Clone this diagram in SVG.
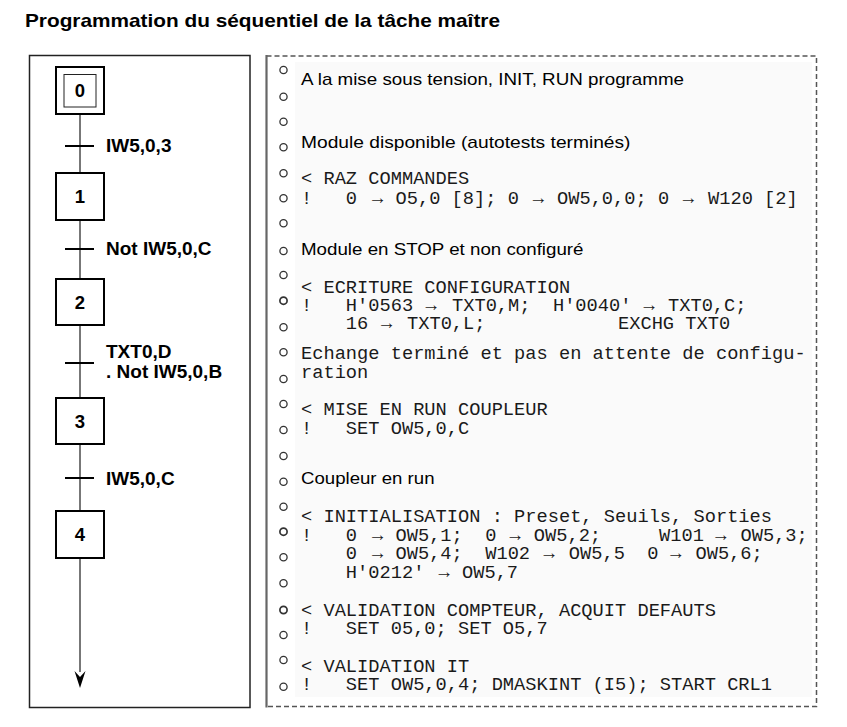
<svg xmlns="http://www.w3.org/2000/svg" width="847" height="727" viewBox="0 0 847 727">
<defs>
<style>
.title{font-family:"Liberation Sans",Arial,sans-serif;font-weight:bold;font-size:17.7px;fill:#000}
.lbl{font-family:"Liberation Sans",Arial,sans-serif;font-weight:bold;font-size:19px;fill:#000}
.num{font-family:"Liberation Sans",Arial,sans-serif;font-weight:bold;font-size:18.5px;fill:#000;text-anchor:middle}
.s{font-family:"Liberation Sans",Arial,sans-serif;font-size:17px;fill:#000}
.m{font-family:"Liberation Mono","DejaVu Sans Mono",monospace;font-size:18.7px;fill:#1a1a1a}
.step{fill:#fff;stroke:#000;stroke-width:2}
.inner{fill:none;stroke:#222;stroke-width:1}
.bar{stroke:#000;stroke-width:2}
.hole{fill:#fff;stroke:#333;stroke-width:1.3}
</style>
<marker id="arr" viewBox="0 0 12 16" refX="6" refY="15" markerWidth="12" markerHeight="16" markerUnits="userSpaceOnUse" orient="auto-start-reverse">
<path d="M0,0 L6,5 L12,0 L6,15 Z" fill="#000" transform="rotate(0)"/>
</marker>
</defs>
<rect width="847" height="727" fill="#fff"/>
<text class="title" x="25" y="26.7" textLength="475" lengthAdjust="spacingAndGlyphs">Programmation du séquentiel de la tâche maître</text>

<!-- left frame -->
<rect x="29.5" y="55.5" width="220.5" height="652" fill="#fff" stroke="#222" stroke-width="1.5"/>

<g id="connectors">
<line x1="80" y1="114" x2="80" y2="672" stroke="#555" stroke-width="1.6"/>
<path d="M74.5,671 L80,677 L85.5,671 L80,688 Z" fill="#000"/>
</g>

<g id="step0">
<rect class="step" x="56" y="67" width="48" height="47"/>
<rect class="inner" x="64" y="74.5" width="32" height="32.5"/>
<text class="num" x="80" y="97">0</text>
</g>
<g id="t1">
<line class="bar" x1="65" y1="146" x2="94" y2="146"/>
<text class="lbl" x="106" y="152">IW5,0,3</text>
</g>
<g id="step1">
<rect class="step" x="56" y="173" width="48" height="47"/>
<text class="num" x="80" y="203.3">1</text>
</g>
<g id="t2">
<line class="bar" x1="65" y1="249" x2="94" y2="249"/>
<text class="lbl" x="106" y="255">Not IW5,0,C</text>
</g>
<g id="step2">
<rect class="step" x="56" y="279" width="48" height="46"/>
<text class="num" x="80" y="308.8">2</text>
</g>
<g id="t3">
<line class="bar" x1="65" y1="363" x2="94" y2="363"/>
<text class="lbl" x="106" y="358.3">TXT0,D</text>
<text class="lbl" x="106" y="377.7">. Not IW5,0,B</text>
</g>
<g id="step3">
<rect class="step" x="56" y="398" width="48" height="46"/>
<text class="num" x="80" y="427.8">3</text>
</g>
<g id="t4">
<line class="bar" x1="65" y1="478" x2="94" y2="478"/>
<text class="lbl" x="106" y="484.5">IW5,0,C</text>
</g>
<g id="step4">
<rect class="step" x="56" y="511" width="48" height="47"/>
<text class="num" x="80" y="541.3">4</text>
</g>

<!-- right panel -->
<g id="notes">
<rect x="295" y="62" width="517" height="635" fill="#fafafa"/>
<path d="M266.5,56 H816.5 V706.5 H266.5" fill="none" stroke="#555" stroke-width="1.5" stroke-dasharray="5 3"/>
<line x1="266.5" y1="55" x2="266.5" y2="707.5" stroke="#666" stroke-width="2.2"/>
<g id="holes">
<circle class="hole" cx="283.5" cy="70" r="3.6"/>
<circle class="hole" cx="283.5" cy="96.7" r="3.6"/>
<circle class="hole" cx="283.5" cy="121.7" r="3.6"/>
<circle class="hole" cx="283.5" cy="147.3" r="3.6"/>
<circle class="hole" cx="283.5" cy="173.3" r="3.6"/>
<circle class="hole" cx="283.5" cy="198.3" r="3.6"/>
<circle class="hole" cx="283.5" cy="223.3" r="3.6"/>
<circle class="hole" cx="283.5" cy="251" r="3.6"/>
<circle class="hole" cx="283.5" cy="275" r="3.6"/>
<circle class="hole" cx="283.5" cy="300.7" r="3.6" style="stroke-width:1.7"/>
<circle class="hole" cx="283.5" cy="327.3" r="3.6"/>
<circle class="hole" cx="283.5" cy="352.3" r="3.6"/>
<circle class="hole" cx="283.5" cy="379" r="3.6"/>
<circle class="hole" cx="283.5" cy="404" r="3.6"/>
<circle class="hole" cx="283.5" cy="430" r="3.6"/>
<circle class="hole" cx="283.5" cy="456" r="3.6"/>
<circle class="hole" cx="283.5" cy="481.7" r="3.6"/>
<circle class="hole" cx="283.5" cy="506.7" r="3.6"/>
<circle class="hole" cx="283.5" cy="531.7" r="3.6" style="stroke-width:1.7"/>
<circle class="hole" cx="283.5" cy="557.3" r="3.6"/>
<circle class="hole" cx="283.5" cy="583.3" r="3.6"/>
<circle class="hole" cx="283.5" cy="610" r="3.6" style="stroke-width:1.7"/>
<circle class="hole" cx="283.5" cy="635" r="3.6"/>
<circle class="hole" cx="283.5" cy="660" r="3.6"/>
<circle class="hole" cx="283.5" cy="686.7" r="3.6"/>
</g>

<text class="s" x="301" y="85" textLength="383" lengthAdjust="spacingAndGlyphs">A la mise sous tension, INIT, RUN programme</text>
<text class="s" x="301" y="148.3" textLength="329.5" lengthAdjust="spacingAndGlyphs">Module disponible (autotests terminés)</text>
<text class="s" x="301" y="255" textLength="282.5" lengthAdjust="spacingAndGlyphs">Module en STOP et non configuré</text>
<text class="s" x="301" y="484.3" textLength="133.5" lengthAdjust="spacingAndGlyphs">Coupleur en run</text>

<text class="m" xml:space="preserve" x="301" y="184.3">&lt; RAZ COMMANDES</text>
<text class="m" xml:space="preserve" y="204"><tspan x="301">!   0</tspan><tspan x="371.9">→</tspan><tspan x="395.5">O5,0 [8]; 0</tspan><tspan x="532.7">→</tspan><tspan x="557">OW5,0,0; 0</tspan><tspan x="682.7">→</tspan><tspan x="708">W120 [2]</tspan></text>

<text class="m" xml:space="preserve" x="301" y="292.7">&lt; ECRITURE CONFIGURATION</text>
<text class="m" xml:space="preserve" y="311"><tspan x="301">!   H'0563</tspan><tspan x="425.5">→</tspan><tspan x="452">TXT0,M;  H'0040'</tspan><tspan x="643.6">→</tspan><tspan x="668">TXT0,C;</tspan></text>
<text class="m" xml:space="preserve" y="329"><tspan x="301">    16</tspan><tspan x="381">→</tspan><tspan x="407">TXT0,L;</tspan><tspan x="618">EXCHG TXT0</tspan></text>
<text class="m" xml:space="preserve" x="301" y="359">Echange terminé et pas en attente de configu-</text>
<text class="m" xml:space="preserve" x="301" y="377.7">ration</text>
<text class="m" xml:space="preserve" x="301" y="415">&lt; MISE EN RUN COUPLEUR</text>
<text class="m" xml:space="preserve" x="301" y="434">!   SET OW5,0,C</text>

<text class="m" xml:space="preserve" x="301" y="522">&lt; INITIALISATION : Preset, Seuils, Sorties</text>
<text class="m" xml:space="preserve" y="540.7"><tspan x="301">!   0</tspan><tspan x="371.9">→</tspan><tspan x="395.5">OW5,1;  0</tspan><tspan x="509.4">→</tspan><tspan x="533.8">OW5,2;</tspan><tspan x="659">W101</tspan><tspan x="715.2">→</tspan><tspan x="740.5">OW5,3;</tspan></text>
<text class="m" xml:space="preserve" y="559.3"><tspan x="301">    0</tspan><tspan x="371.9">→</tspan><tspan x="395.5">OW5,4;  W102</tspan><tspan x="543.6">→</tspan><tspan x="568.8">OW5,5  0</tspan><tspan x="670.2">→</tspan><tspan x="695.5">OW5,6;</tspan></text>
<text class="m" xml:space="preserve" y="578.3"><tspan x="301">    H'0212'</tspan><tspan x="438.6">→</tspan><tspan x="462">OW5,7</tspan></text>
<text class="m" xml:space="preserve" x="301" y="615.7">&lt; VALIDATION COMPTEUR, ACQUIT DEFAUTS</text>
<text class="m" xml:space="preserve" x="301" y="634.3">!   SET 05,0; SET O5,7</text>
<text class="m" xml:space="preserve" x="301" y="671.7">&lt; VALIDATION IT</text>
<text class="m" xml:space="preserve" x="301" y="690">!   SET OW5,0,4; DMASKINT (I5); START CRL1</text>
</g>
</svg>
